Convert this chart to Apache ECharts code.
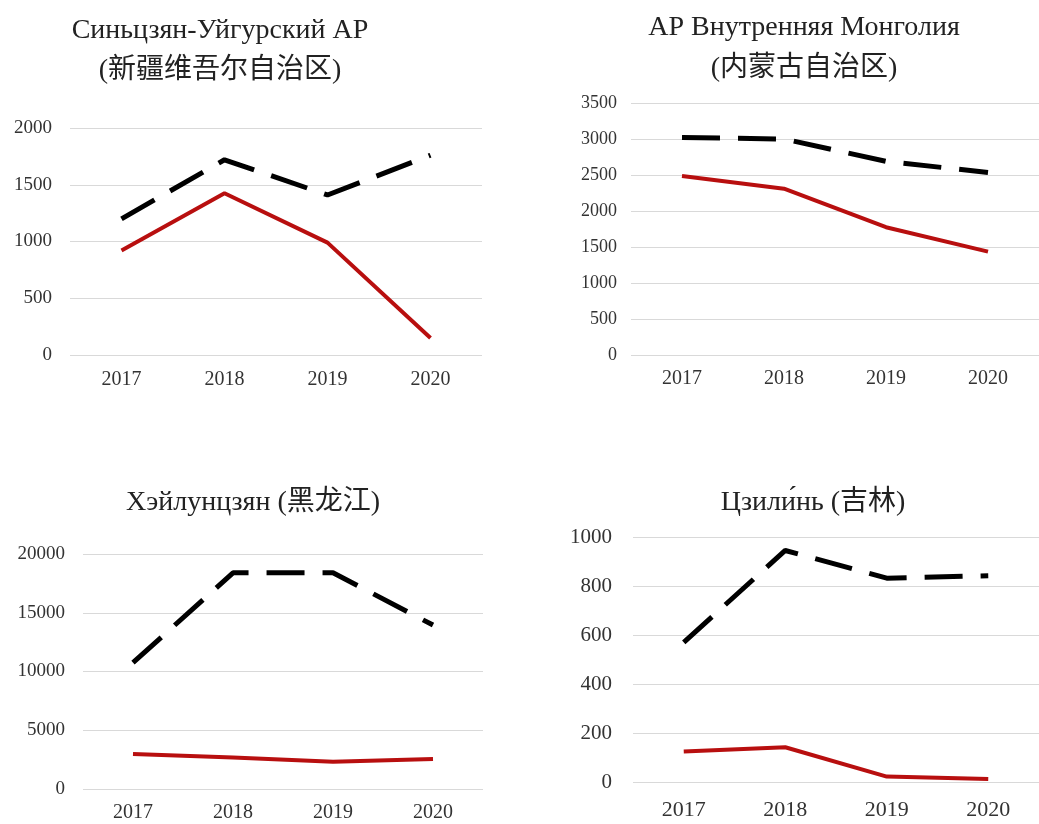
<!DOCTYPE html>
<html>
<head>
<meta charset="utf-8">
<script src="https://cdn.jsdelivr.net/npm/echarts@6/dist/echarts.min.js"></script>
<style>
  html, body { margin: 0; padding: 0; background: #fff; }
  #chart { width: 1039px; height: 824px; }
</style>
</head>
<body>
<div id="chart"></div>
<script>
const years = ['2017', '2018', '2019', '2020']

// dashed black / solid red series, per region
const xinjiangDash = [1200, 1720, 1410, 1760]
const xinjiangRed = [920, 1425, 990, 150]
const mongoliaDash = [3020, 3000, 2690, 2535]
const mongoliaRed = [2485, 2310, 1775, 1435]
const heilongjiangDash = [10750, 18400, 18400, 13950]
const heilongjiangRed = [2980, 2680, 2320, 2560]
const jilinDash = [570, 945, 832, 842]
const jilinRed = [124, 142, 22, 12]

const titles = [
  'Синьцзян-Уйгурский АР\n(新疆维吾尔自治区)',
  'АР Внутренняя Монголия\n(内蒙古自治区)',
  'Хэйлунцзян (黑龙江)',
  'Цзили́нь (吉林)',
]
const yMax = [2000, 3500, 20000, 1000]
const yStep = [500, 500, 5000, 200]

const font = '"Liberation Serif", "Times New Roman", "Noto Sans CJK SC", serif'
const red = '#b80f0f'

const grids = [
  { left: 70, top: 128, width: 412, height: 227 },
  { left: 631, top: 103, width: 416, height: 252 },
  { left: 83, top: 554, width: 400, height: 235 },
  { left: 633, top: 537, width: 417, height: 245 },
]
const titlePos = [
  { left: 220, top: 11, lh: 40 },
  { left: 804, top: 7, lh: 41 },
  { left: 253, top: 487, lh: 32 },
  { left: 813, top: 487, lh: 32 },
]
const xFont = [20, 20, 20, 22]
const xMargin = [15, 14, 14, 17]
const yFont = [19, 18, 19, 21]
const yMargin = [18, 14, 18, 21]

const seriesData = [
  [xinjiangDash, xinjiangRed],
  [mongoliaDash, mongoliaRed],
  [heilongjiangDash, heilongjiangRed],
  [jilinDash, jilinRed],
]

const chart = echarts.init(document.getElementById('chart'), null, { renderer: 'canvas' })

chart.setOption({
  backgroundColor: '#fff',
  animation: false,
  title: titles.map((t, i) => ({
    text: t,
    left: titlePos[i].left,
    top: titlePos[i].top,
    textAlign: 'center',
    padding: 0,
    textStyle: {
      fontFamily: font,
      fontWeight: 'normal',
      fontSize: 28,
      lineHeight: titlePos[i].lh,
      color: '#222',
    },
  })),
  grid: grids,
  xAxis: grids.map((g, i) => ({
    type: 'category',
    gridIndex: i,
    data: years,
    boundaryGap: true,
    axisLine: { show: false },
    axisTick: { show: false },
    axisLabel: {
      margin: xMargin[i],
      fontFamily: font,
      fontSize: xFont[i],
      color: '#333',
    },
  })),
  yAxis: grids.map((g, i) => ({
    type: 'value',
    gridIndex: i,
    min: 0,
    max: yMax[i],
    interval: yStep[i],
    axisLine: { show: false },
    axisTick: { show: false },
    axisLabel: {
      margin: yMargin[i],
      fontFamily: font,
      fontSize: yFont[i],
      color: '#333',
      formatter: (v) => String(v),
    },
    splitLine: { lineStyle: { color: '#d9d9d9', width: 1 } },
  })),
  series: seriesData.flatMap(([dash, solid], i) => [
    {
      type: 'line',
      xAxisIndex: i,
      yAxisIndex: i,
      data: dash,
      symbol: 'none',
      lineStyle: { color: '#000', width: 5, type: [38, 18] },
    },
    {
      type: 'line',
      xAxisIndex: i,
      yAxisIndex: i,
      data: solid,
      symbol: 'none',
      lineStyle: { color: red, width: 4 },
    },
  ]),
})
</script>
</body>
</html>
